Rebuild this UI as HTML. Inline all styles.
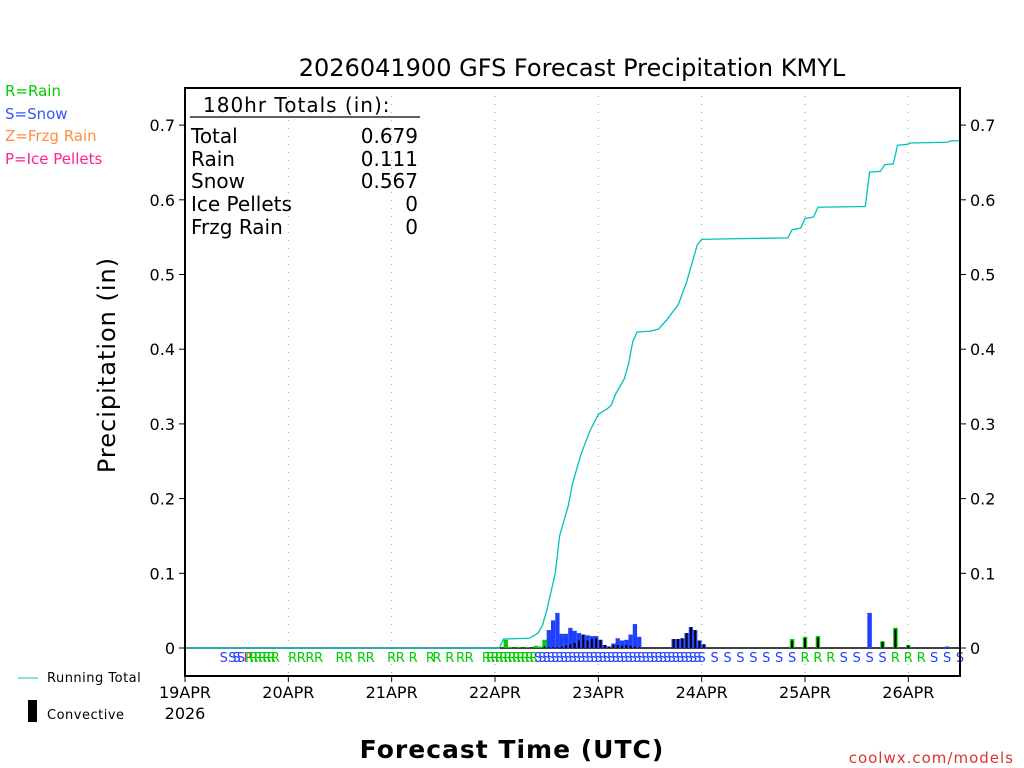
<!DOCTYPE html>
<html><head><meta charset="utf-8"><style>
html,body{margin:0;padding:0;background:#fff;}
svg{display:block;font-family:"DejaVu Sans","Liberation Sans",sans-serif;}
</style></head><body>
<svg id="chart" width="1024" height="768" viewBox="0 0 1024 768">
<text x="572" y="76" font-size="24" text-anchor="middle">2026041900 GFS Forecast Precipitation KMYL</text>
<g font-size="15">
<text x="5" y="96" fill="#00cc00">R=Rain</text>
<text x="5" y="119" fill="#3355ff">S=Snow</text>
<text x="5" y="141" fill="#ff8c40">Z=Frzg Rain</text>
<text x="5" y="164" fill="#ff2090">P=Ice Pellets</text>
</g>
<line x1="18" y1="678" x2="38" y2="678" stroke="#00c8c8" stroke-width="1"/>
<text x="47" y="682" font-size="13" letter-spacing="0.5">Running Total</text>
<rect x="28" y="700" width="9" height="22" fill="#000"/>
<text x="47" y="719" font-size="13" letter-spacing="0.5">Convective</text>
<text x="115" y="365" font-size="24" text-anchor="middle" transform="rotate(-90 115 365)" letter-spacing="1">Precipitation (in)</text>
<text x="512" y="758" font-size="25" font-weight="bold" text-anchor="middle" letter-spacing="1">Forecast Time (UTC)</text>
<text x="1014" y="763" font-size="15" fill="#e03030" text-anchor="end" letter-spacing="1">coolwx.com/models</text>
<g font-size="20" fill="#000">
<text x="203" y="112" letter-spacing="1">180hr Totals (in):</text>
<line x1="190" y1="117" x2="420" y2="117" stroke="#000" stroke-width="1.2"/>
<text x="191" y="143">Total</text><text x="418" y="143" text-anchor="end">0.679</text>
<text x="191" y="166">Rain</text><text x="418" y="166" text-anchor="end">0.111</text>
<text x="191" y="188">Snow</text><text x="418" y="188" text-anchor="end">0.567</text>
<text x="191" y="211">Ice Pellets</text><text x="418" y="211" text-anchor="end">0</text>
<text x="191" y="234">Frzg Rain</text><text x="418" y="234" text-anchor="end">0</text>
</g>
</svg>
<script>
const yTicks=[0,0.1,0.2,0.3,0.4,0.5,0.6,0.7];
const yTickLabels=["0","0.1","0.2","0.3","0.4","0.5","0.6","0.7"];
const dayHours=[0,24,48,72,96,120,144,168];
const dayLabels=["19APR","20APR","21APR","22APR","23APR","24APR","25APR","26APR"];
// hourly/3-hourly bars: hour, total, convective, type
const barHours=[74,75,77,79,81,82,83,84,85,86,87,88,89,90,91,92,93,94,95,96,97,98,99,100,101,102,103,104,105,113,114,115,116,117,118,119,120,141,144,147,159,162,165,168,177];
const barTotals=[0.011,0.001,0.001,0.001,0.003,0.002,0.011,0.024,0.037,0.047,0.019,0.019,0.027,0.023,0.020,0.018,0.017,0.016,0.016,0.011,0.004,0.002,0.006,0.013,0.010,0.011,0.018,0.032,0.015,0.012,0.012,0.013,0.020,0.028,0.024,0.010,0.005,0.012,0.015,0.016,0.047,0.009,0.027,0.004,0.002];
const barConv=[0,0,0,0,0,0,0.002,0.001,0.001,0.001,0.002,0.003,0.005,0.007,0.010,0.018,0.010,0.012,0.013,0.011,0.004,0.002,0.004,0.004,0.003,0.004,0.003,0.002,0.001,0.012,0.012,0.013,0.020,0.028,0.024,0.010,0.005,0.010,0.013,0.014,0,0.008,0.025,0.003,0];
const barTypes=["R","R","R","R","R","R","R","S","S","S","S","S","S","S","S","S","S","S","S","S","S","S","S","S","S","S","S","S","S","S","S","S","S","S","S","S","S","R","R","R","S","R","R","R","S"];
// running total
const runHours=[0,73,74,80,82,83,84,86,87,89,90,92,94,96,98,99,100,102,103,104,105,108,110,112,114.6,116.5,118,119,120,129,140,141,143,144,146,147,158,159,161.5,162.5,164.5,165.5,167.5,168.5,177,178,180];
const runTotals=[0,0,0.012,0.013,0.02,0.03,0.05,0.10,0.15,0.19,0.22,0.26,0.29,0.313,0.32,0.325,0.34,0.36,0.38,0.41,0.423,0.424,0.427,0.44,0.46,0.49,0.52,0.54,0.547,0.548,0.549,0.560,0.562,0.575,0.577,0.590,0.591,0.637,0.638,0.647,0.648,0.673,0.674,0.676,0.677,0.679,0.679];
// precip-type letters
const letterHours=[9,11,12,13,14.5,15,16,17,18,19,20,21,25,27,29,31,36,38,41,43,48,50,53,57,58.5,61.5,64,66,70,71,72,73,74,75,76,77,78,79,80,81,82,83,84,85,86,87,88,89,90,91,92,93,94,95,96,97,98,99,100,101,102,103,104,105,106,107,108,109,110,111,112,113,114,115,116,117,118,119,120,123,126,129,132,135,138,141,144,147,150,153,156,159,162,165,168,171,174,177,180];
const letterTypes="SSSSPRRRRRRRRRRRRRRRRRRRRRRRRRRRRRRRRRRRSSSSSSSSSSSSSSSSSSSSSSSSSSSSSSSSSSSSSSSSSSSSSSRRRSSSSRRRSSSS".split("");

const L=185,R=960,T=88,B=676,Y0=648,PX=747;
const xs=h=>L+h*(R-L)/180;
const ys=v=>Y0-v*PX;
const svg=document.getElementById('chart');
const NS='http://www.w3.org/2000/svg';
function mk(tag,attrs,parent){const e=document.createElementNS(NS,tag);for(const k in attrs)e.setAttribute(k,attrs[k]);(parent||svg).appendChild(e);return e;}
const colors={R:'#00cc00',S:'#2040ff',P:'#ff2090',Z:'#ff8c40'};

dayHours.forEach((h,i)=>{if(i===0)return;
 const g=mk('line',{x1:xs(h),x2:xs(h),y1:T,y2:B,stroke:'#999','stroke-dasharray':'1,7','stroke-width':1});
 
 
});
const zl=mk('line',{x1:L,x2:R,y1:Y0,y2:Y0,stroke:'#000','stroke-width':1.5});


barHours.forEach((h,i)=>{
 const w=h<=120?4.3:4.5;
 const x=h<=120?xs(h):xs(h)-w/2;
 const r=mk('rect',{x:x,y:ys(barTotals[i]),width:w,height:barTotals[i]*PX,fill:colors[barTypes[i]]});
 
 
 if(barConv[i]>0){
  const c=mk('rect',{x:x+1.2,y:ys(barConv[i]),width:w-2.4,height:barConv[i]*PX,fill:'#000'});
  
  
 }
});
const pl=mk('polyline',{points:runHours.map((h,i)=>xs(h)+','+ys(runTotals[i])).join(' '),fill:'none',stroke:'#00c0c0','stroke-width':1.3});


letterHours.forEach((h,i)=>{
 const t=mk('text',{x:xs(h),y:662,'font-size':13,'text-anchor':'middle',fill:colors[letterTypes[i]]});
 t.textContent=letterTypes[i];
 
 
});
const fr=mk('rect',{x:L,y:T,width:R-L,height:B-T,fill:'none',stroke:'#000','stroke-width':2});


yTicks.forEach((v,i)=>{
 mk('line',{x1:L-6,x2:L,y1:ys(v),y2:ys(v),stroke:'#000'});
 mk('line',{x1:R,x2:R+6,y1:ys(v),y2:ys(v),stroke:'#000'});
 const a=mk('text',{x:L-10,y:ys(v)+6,'font-size':16,'text-anchor':'end'});a.textContent=yTickLabels[i];
 
 
 const b=mk('text',{x:R+10,y:ys(v)+6,'font-size':16});b.textContent=yTickLabels[i];
 
 
});
dayHours.forEach((h,i)=>{
 mk('line',{x1:xs(h),x2:xs(h),y1:B,y2:B+6,stroke:'#000'});
 const t=mk('text',{x:xs(h),y:698,'font-size':16,'text-anchor':'middle'});t.textContent=dayLabels[i];
 
 
});
const yr=mk('text',{x:xs(0),y:719,'font-size':16,'text-anchor':'middle'});yr.textContent='2026';


</script>
</body></html>
